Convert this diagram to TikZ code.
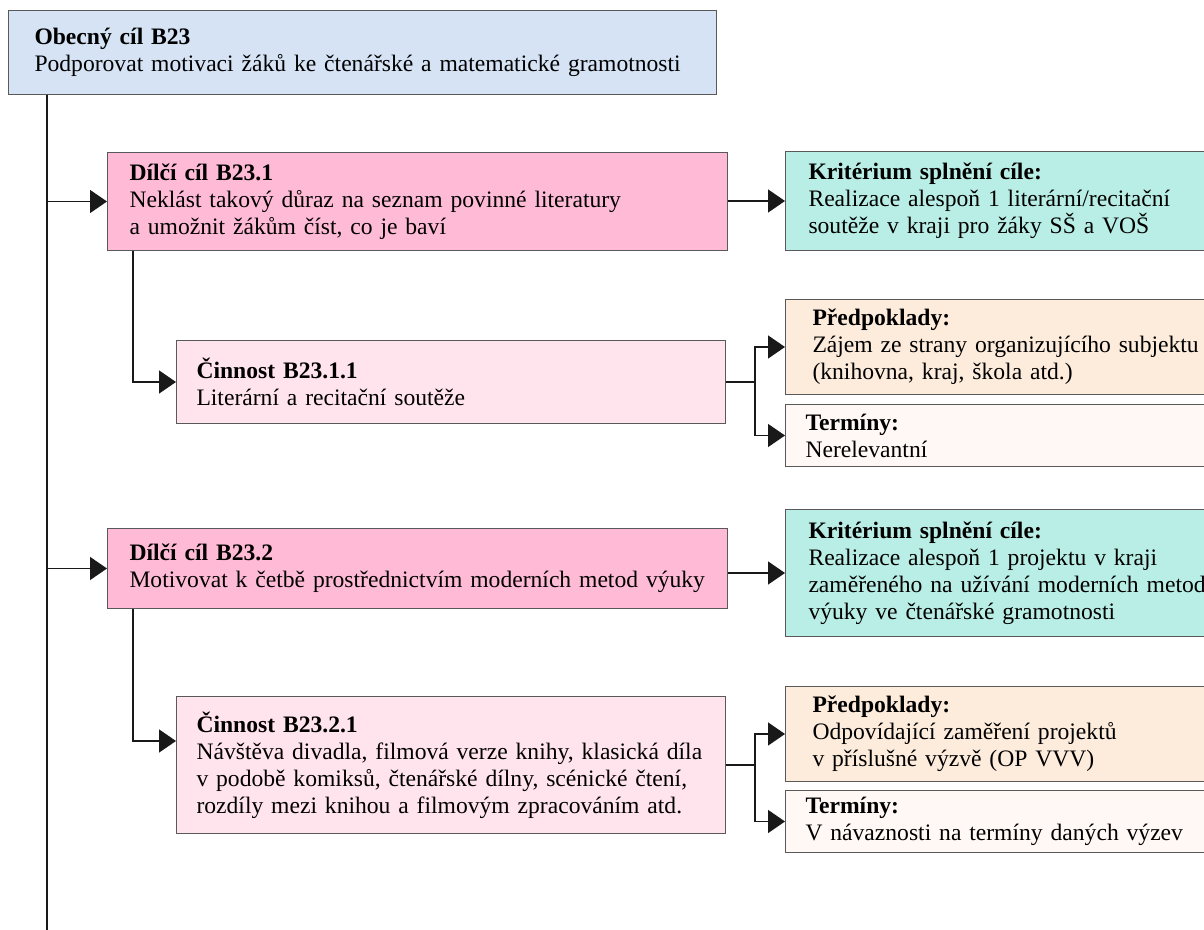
\documentclass[tikz,border=0pt]{standalone}
\usepackage{fontspec}
\setmainfont{Liberation Serif}
\usetikzlibrary{positioning,arrows.meta}
\definecolor{goalblue}{RGB}{213,227,245}
\definecolor{partpink}{RGB}{255,187,214}
\definecolor{taskpink}{RGB}{255,228,238}
\definecolor{critmint}{RGB}{184,238,229}
\definecolor{assumpeach}{RGB}{253,235,220}
\definecolor{datescream}{RGB}{255,248,244}

\begin{document}
\begin{tikzpicture}[
    >={Triangle[length=8.5pt,width=11.5pt]},
    x=1pt, y=-1pt,
    box/.style={draw=black!65,line width=0.5pt,anchor=north west,align=left,
                inner ysep=0pt,font=\fontsize{11.8}{13.5}\selectfont},
    goal/.style={box,fill=goalblue,text width=328pt,inner xsep=13pt},
    partgoal/.style={box,fill=partpink,text width=288pt,inner xsep=11pt},
    task/.style={box,fill=taskpink,text width=254.5pt,inner xsep=10pt},
    crit/.style={box,fill=critmint,text width=240pt,inner xsep=11.5pt},
    assum/.style={box,fill=assumpeach,text width=240pt,inner xsep=13.5pt},
    dates/.style={box,fill=datescream,text width=240pt,inner xsep=10pt},
    link/.style={black!90,line width=0.75pt},
    arr/.style={link,->}]

  \useasboundingbox (0,0) rectangle (602,465);
  \clip (0,0) rectangle (602,465);

  % ---- general goal and the spine ----
  \node[goal,minimum height=42pt] (goal) at (4,5)
        {\textbf{Obecný cíl B23}\\Podporovat motivaci žáků ke čtenářské a matematické gramotnosti};
  \coordinate (spine) at (23.5,465);
  \coordinate (drop)  at (66.5,0);
  \coordinate (fork)  at (377.5,0);

  % ---- first partial goal ----
  \node[partgoal,minimum height=49pt] (sub1) at (53.5,76)
        {\textbf{Dílčí cíl B23.1}\\Neklást takový důraz na seznam povinné literatury\\a umožnit žákům číst, co je baví};
  \node[crit,minimum height=49.5pt] (crit1) at (392.5,75.5)
        {\textbf{Kritérium splnění cíle:}\\Realizace alespoň 1 literární/recitační\\soutěže v kraji pro žáky SŠ a VOŠ};
  \node[task,minimum height=41.5pt] (task1) at (88,170)
        {\textbf{Činnost B23.1.1}\\Literární a recitační soutěže};
  \node[assum,minimum height=47.5pt] (assum1) at (392.5,149.5)
        {\textbf{Předpoklady:}\\Zájem ze strany organizujícího subjektu\\(knihovna, kraj, škola atd.)};
  \node[dates,minimum height=31pt] (dates1) at (392.5,202)
        {\textbf{Termíny:}\\Nerelevantní};

  % ---- second partial goal ----
  \node[partgoal,minimum height=40pt] (sub2) at (53.5,264)
        {\textbf{Dílčí cíl B23.2}\\Motivovat k četbě prostřednictvím moderních metod výuky};
  \node[crit,minimum height=63.5pt] (crit2) at (392.5,254.5)
        {\textbf{Kritérium splnění cíle:}\\Realizace alespoň 1 projektu v kraji\\zaměřeného na užívání moderních metod\\výuky ve čtenářské gramotnosti};
  \node[task,minimum height=68.5pt] (task2) at (88,348)
        {\textbf{Činnost B23.2.1}\\Návštěva divadla, filmová verze knihy, klasická díla\\v podobě komiksů, čtenářské dílny, scénické čtení,\\rozdíly mezi knihou a filmovým zpracováním atd.};
  \node[assum,minimum height=47.5pt] (assum2) at (392.5,343)
        {\textbf{Předpoklady:}\\Odpovídající zaměření projektů\\v příslušné výzvě (OP VVV)};
  \node[dates,minimum height=31pt] (dates2) at (392.5,395)
        {\textbf{Termíny:}\\V návaznosti na termíny daných výzev};

  % ---- connectors ----
  \draw[link] (goal.south -| spine) -- (spine);
  \draw[arr] (sub1.west -| spine) -- (sub1.west);
  \draw[arr] (sub2.west -| spine) -- (sub2.west);
  \draw[arr] (sub1.east |- crit1.west) -- (crit1.west);
  \draw[arr] (sub2.east |- crit2.west) -- (crit2.west);
  \draw[arr] (sub1.south -| drop) |- (task1.west);
  \draw[arr] (sub2.south -| drop) |- ([yshift=12pt]task2.west);
  \draw[link] (task1.east) -- (task1.east -| fork);
  \draw[arr] (task1.east -| fork) |- (assum1.west);
  \draw[arr] (task1.east -| fork) |- (dates1.west);
  \draw[link] (task2.east) -- (task2.east -| fork);
  \draw[arr] (task2.east -| fork) |- (assum2.west);
  \draw[arr] (task2.east -| fork) |- (dates2.west);
\end{tikzpicture}
\end{document}
